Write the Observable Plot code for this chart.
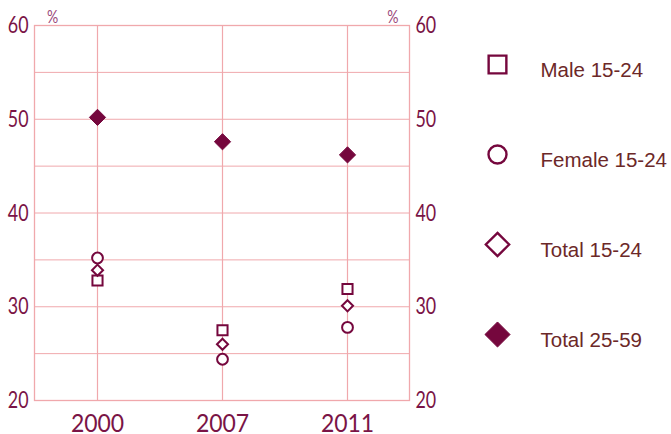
<!DOCTYPE html>
<html>
<head>
<meta charset="utf-8">
<script src="https://cdn.jsdelivr.net/npm/d3@7"></script>
<script src="https://cdn.jsdelivr.net/npm/@observablehq/plot@0.6"></script>
<style>
  html, body { margin: 0; padding: 0; background: #fff; }
  #wrap { position: relative; width: 671px; height: 434px; overflow: hidden; }
  #wrap > svg { position: absolute; left: 0; top: 0; }
</style>
</head>
<body>
<div id="wrap"></div>
<script>
const years = ["2000", "2007", "2011"];
const seriesNames = ["Male 15-24", "Female 15-24", "Total 15-24", "Total 25-59"];
const male1524 = [32.8, 27.5, 31.9];
const female1524 = [35.2, 24.4, 27.8];
const total1524 = [33.9, 26.0, 30.1];
const total2559 = [50.2, 47.6, 46.2];
const yTicks = [20, 30, 40, 50, 60];
const yGrid = [20, 25, 30, 35, 40, 45, 50, 55, 60];

const seriesValues = [male1524, female1524, total1524, total2559];
const rows = [];
seriesNames.forEach((s, i) => years.forEach((yr, j) => rows.push({series: s, year: yr, value: seriesValues[i][j]})));

const markColor = "#75073d";
const gridColor = "#f0a8ac";
const tickColor = "#7a1446";
const legendText = "#6c2828";
const axisFont = "Lato, 'Open Sans', sans-serif";

const symbolScale = {domain: seriesNames, range: ["square", "circle", "diamond2", "diamond2"]};
const chartR = {"Male 15-24": 5.7, "Female 15-24": 5.4, "Total 15-24": 5.0, "Total 25-59": 7.3};
const legendR = {"Male 15-24": 10, "Female 15-24": 9, "Total 15-24": 10.5, "Total 25-59": 11.3};
const filled = s => s === "Total 25-59";

const chart = Plot.plot({
  width: 671,
  height: 434,
  marginLeft: 34,
  marginRight: 262,
  marginTop: 25,
  marginBottom: 34,
  style: {background: "transparent", overflow: "visible"},
  x: {type: "point", domain: years, padding: 0.5},
  y: {domain: [20, 60]},
  symbol: symbolScale,
  marks: [
    Plot.ruleY(yGrid, {stroke: gridColor, strokeWidth: 1}),
    Plot.ruleX(years, {stroke: gridColor, strokeWidth: 1.2}),
    Plot.frame({stroke: gridColor, strokeWidth: 1.3}),
    Plot.axisY(yTicks, {anchor: "left", tickSize: 0, tickPadding: 6, fontSize: 23.5, fontFamily: axisFont, fill: tickColor, label: null}),
    Plot.axisY(yTicks, {anchor: "right", tickSize: 0, tickPadding: 6, fontSize: 23.5, fontFamily: axisFont, fill: tickColor, label: null}),
    Plot.axisX(years, {anchor: "bottom", tickSize: 0, tickPadding: 13, fontSize: 25.5, fontFamily: axisFont, fill: tickColor, label: null}),
    Plot.text(["%"], {frameAnchor: "top-left", dx: 12.5, dy: -14.5, fontSize: 16.5, fontFamily: axisFont, fill: "#9b4a7c"}),
    Plot.text(["%"], {frameAnchor: "top-right", dx: -11, dy: -14.5, fontSize: 16.5, fontFamily: axisFont, fill: "#9b4a7c"}),
    ...seriesNames.map(s => Plot.dot(rows.filter(d => d.series === s), {
      x: "year", y: "value", symbol: "series", r: chartR[s],
      fill: filled(s) ? markColor : "white", stroke: markColor, strokeWidth: filled(s) ? 1 : 2
    }))
  ]
});

const legend = Plot.plot({
  width: 671,
  height: 434,
  marginLeft: 497,
  marginRight: 0,
  marginTop: 64,
  marginBottom: 100,
  style: {background: "transparent", overflow: "visible"},
  y: {type: "point", domain: seriesNames, padding: 0, axis: null},
  symbol: symbolScale,
  marks: [
    ...seriesNames.map(s => Plot.dot([s], {
      y: d => d, symbol: d => d, frameAnchor: "left", r: legendR[s],
      fill: filled(s) ? markColor : "white", stroke: markColor, strokeWidth: filled(s) ? 1 : 2.4
    })),
    Plot.text(seriesNames, {y: d => d, text: d => d, frameAnchor: "left", dx: 43, dy: 6, textAnchor: "start",
      fontSize: 20.5, fontFamily: "'Liberation Sans', Arial, sans-serif", fill: legendText})
  ]
});

const wrap = document.getElementById("wrap");
wrap.appendChild(chart);
wrap.appendChild(legend);

// condense tick label glyphs to mimic the narrow face of the original
function condense(selector, factor) {
  chart.querySelectorAll(selector).forEach(t => {
    const w = t.getComputedTextLength();
    t.setAttribute("textLength", (w * factor).toFixed(2));
    t.setAttribute("lengthAdjust", "spacingAndGlyphs");
  });
}
condense('g[aria-label="y-axis tick label"] text', 0.76);
condense('g[aria-label="x-axis tick label"] text', 0.9);
condense('g[aria-label="text"] text', 0.85);
</script>
</body>
</html>
